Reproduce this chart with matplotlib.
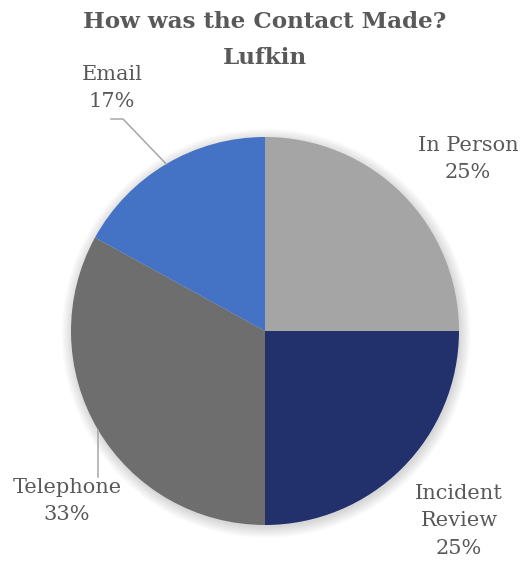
import numpy as np
import matplotlib.pyplot as plt
from matplotlib.patches import Circle

# Contact method shares for Lufkin (percent)
methods = ['In Person', 'Incident Review', 'Telephone', 'Email']
shares = [25, 25, 33, 17]
colors = ['#A5A5A5', '#22306B', '#6E6E6E', '#4472C4']
label_text = ['In Person\n25%', 'Incident\nReview\n25%', 'Telephone\n33%', 'Email\n17%']

W, H = 526, 566
CX, CY, R = 265, 331, 194  # pie centre and radius in pixels


def px(x, y):
    """pixel position (origin top-left) -> data units of the pie axes"""
    return (x - CX) / R, (CY - y) / R


fig = plt.figure(figsize=(W / 100, H / 100), dpi=100)
ax = fig.add_axes([0, 0, 1, 1])

# soft shadow round the pie
for i in range(10):
    ax.add_patch(Circle((0.006, -0.012), 1.0 + i * 0.006, color='#000000',
                        alpha=0.016, lw=0, zorder=0))

wedges, _ = ax.pie(shares, colors=colors, startangle=90, counterclock=False,
                   radius=1.0, wedgeprops=dict(linewidth=0))
for w in wedges:
    w.set_zorder(2)

ax.set_xlim(-CX / R, (W - CX) / R)
ax.set_ylim(-(H - CY) / R, CY / R)
ax.set_aspect('auto')
ax.axis('off')

txt = dict(family='DejaVu Serif', fontsize=15, color='#595959',
           ha='center', va='center', linespacing=1.55)

label_pos = {
    'In Person': px(468, 159),
    'Incident Review': px(459, 521),
    'Telephone': px(67, 501),
    'Email': px(112, 88),
}
for name, lab in zip(methods, label_text):
    ax.text(*label_pos[name], lab, zorder=3, **txt)

# leader lines from the wedge edge at its mid angle
mid = {m: np.deg2rad((w.theta1 + w.theta2) / 2) for m, w in zip(methods, wedges)}
line = dict(color='#A6A6A6', lw=1.1, zorder=3)

a = mid['Email']
ex, ey = np.cos(a), np.sin(a)
kx, ky = px(123, 119)
hx, _ = px(111, 119)
ax.plot([ex, kx, hx], [ey, ky, ky], **line)

a = mid['Telephone']
tx, ty = np.cos(a), np.sin(a)
_, by = px(0, 477)
ax.plot([tx, tx], [ty, by], **line)

ax.text(*px(265, 40), 'How was the Contact Made?\nLufkin', family='DejaVu Serif',
        fontsize=16.6, fontweight='bold', color='#595959', ha='center', va='center',
        linespacing=1.8)

fig.savefig('out.png', dpi=100)
